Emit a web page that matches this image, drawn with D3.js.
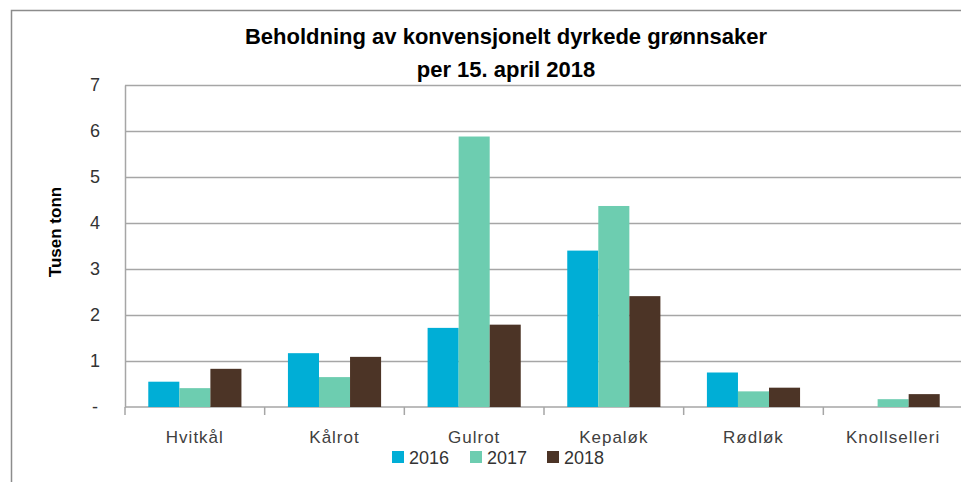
<!DOCTYPE html>
<html>
<head>
<meta charset="utf-8">
<script src="https://cdn.jsdelivr.net/npm/d3@7"></script>
<style>
  body { margin: 0; background: #fff; }
  text { font-family: "Liberation Sans", Arial, sans-serif; }
</style>
</head>
<body>
<script>
const bredde = 961
const hoyde = 482
const margin = {top: 85, right: -2, bottom: 75, left: 125}

const kategorier = ['Hvitkål', 'Kålrot', 'Gulrot', 'Kepaløk', 'Rødløk', 'Knollselleri']
const aar = ['2016', '2017', '2018']
const v2016 = [0.55, 1.17, 1.72, 3.40, 0.75, 0]
const v2017 = [0.41, 0.65, 5.88, 4.37, 0.34, 0.17]
const v2018 = [0.83, 1.09, 1.79, 2.41, 0.42, 0.28]
const yTicks = [0, 1, 2, 3, 4, 5, 6, 7]
const farger = ['#00aed6', '#6dcdb0', '#4c3426']

const serier = [v2016, v2017, v2018]
const data = kategorier.map((k, i) => ({kategori: k, verdier: aar.map((a, j) => ({aar: a, verdi: serier[j][i]}))}))

const svg = d3.select('body').append('svg').attr('width', bredde).attr('height', hoyde)

// ytre ramme
svg.append('rect').attr('x', 11.5).attr('y', 10.5).attr('width', 980).attr('height', 500)
  .attr('fill', 'none').attr('stroke', '#8c8c8c').attr('stroke-width', 1.5)

const plotB = bredde - margin.left - margin.right
const plotH = hoyde - margin.top - margin.bottom

const x = d3.scaleBand().domain(kategorier).range([0, plotB]).paddingInner(0.333).paddingOuter(0.1667)
const xGrense = d3.scaleBand().domain(kategorier).range([0, plotB])
const xAar = d3.scaleBand().domain(aar).range([0, x.bandwidth()])
const y = d3.scaleLinear().domain([0, 7]).range([plotH, 0])

const g = svg.append('g').attr('transform', 'translate(' + margin.left + ',' + margin.top + ')')

// rutenett
g.append('g').selectAll('line').data(yTicks.slice(1)).join('line')
  .attr('x1', 0).attr('x2', plotB)
  .attr('y1', d => y(d) + 0.5).attr('y2', d => y(d) + 0.5)
  .attr('stroke', '#a6a6a6').attr('stroke-width', 1.5)

// venstre akse
const eksenVenstre = g.append('g').call(d3.axisLeft(y).tickValues(yTicks).tickSize(0).tickPadding(30)
  .tickFormat(d => d === 0 ? '-' : d))
eksenVenstre.select('.domain').attr('stroke', '#a6a6a6').attr('stroke-width', 1.5)
eksenVenstre.selectAll('text').attr('font-size', 18).attr('fill', '#333').attr('text-anchor', 'middle')
  .attr('font-family', '"Liberation Sans", Arial, sans-serif')

// bunnakse med skillestreker
const bunn = g.append('g').attr('transform', 'translate(0,' + plotH + ')')
bunn.append('line').attr('x1', 0).attr('x2', plotB).attr('stroke', '#a6a6a6').attr('stroke-width', 1.5)
bunn.selectAll('.skille').data(kategorier).join('line').attr('class', 'skille')
  .attr('x1', d => xGrense(d)).attr('x2', d => xGrense(d))
  .attr('y1', 0).attr('y2', 8)
  .attr('stroke', '#a6a6a6').attr('stroke-width', 1.5)
bunn.selectAll('.kat').data(kategorier).join('text').attr('class', 'kat')
  .attr('x', d => x(d) + x.bandwidth() / 2).attr('y', 36)
  .attr('text-anchor', 'middle').attr('font-size', 17).attr('letter-spacing', 1).attr('fill', '#404040')
  .text(d => d)

// stolper
g.append('g').selectAll('g').data(data).join('g')
  .attr('transform', d => 'translate(' + x(d.kategori) + ',0)')
  .selectAll('rect').data(d => d.verdier.filter(v => v.verdi > 0)).join('rect')
  .attr('x', d => xAar(d.aar))
  .attr('width', xAar.bandwidth())
  .attr('y', d => y(d.verdi))
  .attr('height', d => plotH - y(d.verdi))
  .attr('fill', d => farger[aar.indexOf(d.aar)])

// aksetittel
svg.append('text').attr('transform', 'translate(61,232) rotate(-90)')
  .attr('text-anchor', 'middle').attr('font-size', 17).attr('font-weight', 'bold').attr('fill', '#000')
  .text('Tusen tonn')

// tittel
svg.append('text').attr('x', 506).attr('y', 44).attr('text-anchor', 'middle')
  .attr('font-size', 22).attr('font-weight', 'bold').attr('fill', '#000')
  .text('Beholdning av konvensjonelt dyrkede grønnsaker')
svg.append('text').attr('x', 506).attr('y', 77).attr('text-anchor', 'middle')
  .attr('font-size', 22).attr('font-weight', 'bold').attr('fill', '#000')
  .text('per 15. april 2018')

// forklaring
const legX = [392, 470, 547]
const leg = svg.append('g').selectAll('g').data(aar).join('g')
  .attr('transform', (d, i) => 'translate(' + legX[i] + ',451)')
leg.append('rect').attr('width', 12).attr('height', 12).attr('fill', (d, i) => farger[i])
leg.append('text').attr('x', 17).attr('y', 12.5).attr('font-size', 18).attr('fill', '#333').text(d => d)
</script>
</body>
</html>
